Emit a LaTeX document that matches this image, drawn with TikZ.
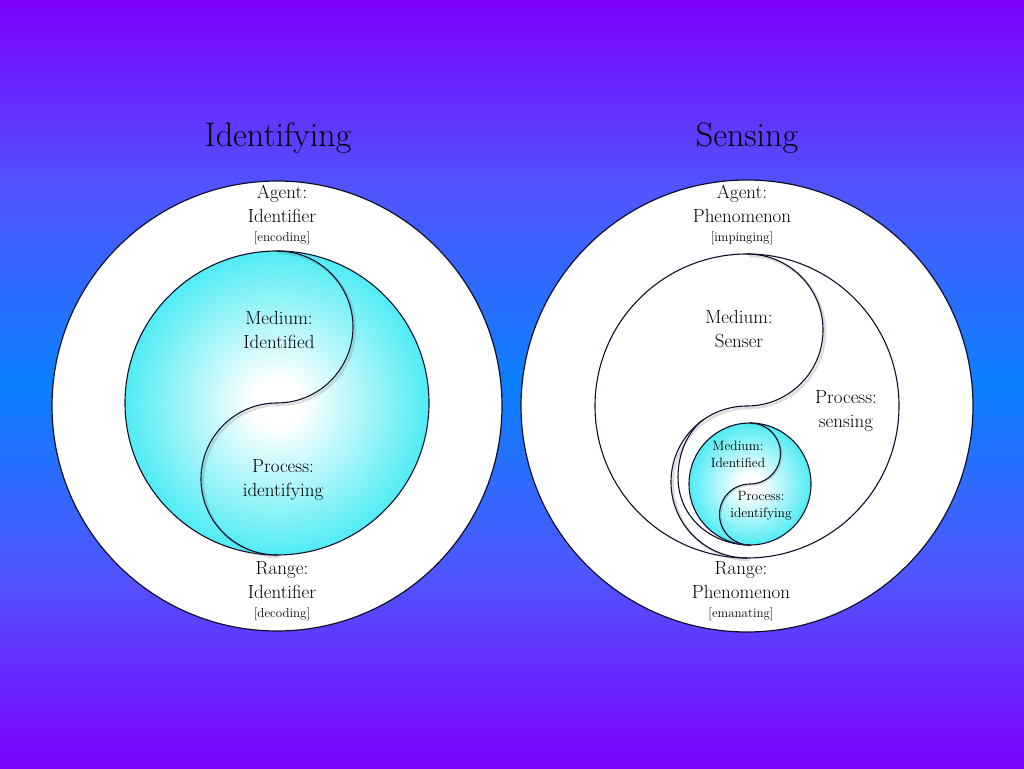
\documentclass[tikz,border=0pt]{standalone}
\usepackage{fontspec}
\definecolor{topc}{RGB}{125,0,255}
\definecolor{qc}{RGB}{80,85,255}
\definecolor{midc}{RGB}{10,128,255}
\definecolor{cyanedge}{RGB}{80,236,244}
\definecolor{lineink}{RGB}{15,15,45}
\pgfdeclareverticalshading{bgshade}{100bp}{color(0bp)=(topc); color(25bp)=(topc); color(37.5bp)=(qc); color(50bp)=(midc); color(62.5bp)=(qc); color(75bp)=(topc); color(100bp)=(topc)}
\pgfdeclareradialshading{cyanball}{\pgfpoint{0bp}{0bp}}{color(0bp)=(white); color(4bp)=(white); color(25bp)=(cyanedge); color(50bp)=(cyanedge)}
\newcommand{\bigf}{\fontsize{19}{24}\selectfont}
\newcommand{\brf}{\fontsize{13}{16}\selectfont}
\newcommand{\smf}{\fontsize{13.5}{17}\selectfont}
\tikzset{
  ring/.style={draw=lineink, line width=1.2pt, fill=white},
  ball/.style={draw=lineink, line width=1.1pt, shading=cyanball},
  scurve/.style={draw=lineink, line width=1.1pt},
  shadowline/.style={draw=black!60, line width=2.5pt, opacity=0.22},
  title/.style={font=\fontsize{34}{40}\selectfont, text=black, inner sep=0pt, anchor=base},
  lbl/.style={font=\bigf, align=center, inner sep=0pt, anchor=base, text=black},
  slbl/.style={font=\smf, align=center, inner sep=0pt, anchor=base, text=black}
}
\begin{document}
\begin{tikzpicture}[x=1pt,y=1pt]
\useasboundingbox (0,0) rectangle (1024,768);
\shade[shading=bgshade] (0,0) rectangle (1024,768);

% ---------- left diagram ----------
\node[title] (t1) at (278,621) {Identifying};
\node[ring, circle, minimum size=450pt, inner sep=0pt] (lo) at (277,362) {};
\node[ball, circle, minimum size=304pt, inner sep=0pt] (li) at (277,365) {};
\draw[shadowline] (279,515) arc[start angle=90,end angle=-90,radius=76] arc[start angle=90,end angle=270,radius=76];
\draw[scurve] (277,517) arc[start angle=90,end angle=-90,radius=76] arc[start angle=90,end angle=270,radius=76];

\node[lbl] (la) at (282,526) {Agent:\\Identifier\\[-5pt]{\brf [encoding]}};
\node[lbl] (lm) at (279,419) {Medium:\\Identified};
\node[lbl] (lp) at (283,271) {Process:\\identifying};
\node[lbl] (lr) at (282,150) {Range:\\Identifier\\[-5pt]{\brf [decoding]}};

% ---------- right diagram ----------
\node[title] (t2) at (747,621) {Sensing};
\node[ring, circle, minimum size=452pt, inner sep=0pt] (ro) at (747,362) {};
\node[ring, circle, minimum size=304pt, inner sep=0pt, line width=1.1pt] (rm) at (747,362) {};
\draw[shadowline] (749,512) arc[start angle=90,end angle=-90,radius=76] arc[start angle=90,end angle=270,radius=76];
\draw[scurve] (747,514) arc[start angle=90,end angle=-90,radius=76] arc[start angle=90,end angle=270,radius=76];
\coordinate (ic1) at (703.4,348.3);
\coordinate (ic2) at (678,291);
\coordinate (ic3) at (750,223);
\draw[scurve] (ic1) .. controls (688,337) and (678,315) .. (ic2) .. controls (678,250) and (712,223) .. (ic3);
\node[ball, circle, minimum size=122pt, inner sep=0pt] (rs) at (750,284) {};
\draw[shadowline, line width=2pt] (751,344) arc[start angle=90,end angle=-90,radius=30.5] arc[start angle=90,end angle=270,radius=30.5];
\draw[scurve] (750,345) arc[start angle=90,end angle=-90,radius=30.5] arc[start angle=90,end angle=270,radius=30.5];

\node[lbl] (ra) at (742,526) {Agent:\\Phenomenon\\[-5pt]{\brf [impinging]}};
\node[lbl] (rme) at (739,420) {Medium:\\Senser};
\node[lbl] (rp) at (846,340) {Process:\\sensing};
\node[slbl] (sm) at (738,300) {Medium:\\Identified};
\node[slbl] (sp) at (761,250) {Process:\\identifying};
\node[lbl] (rr) at (741,150) {Range:\\Phenomenon\\[-5pt]{\brf [emanating]}};
\end{tikzpicture}
\end{document}
